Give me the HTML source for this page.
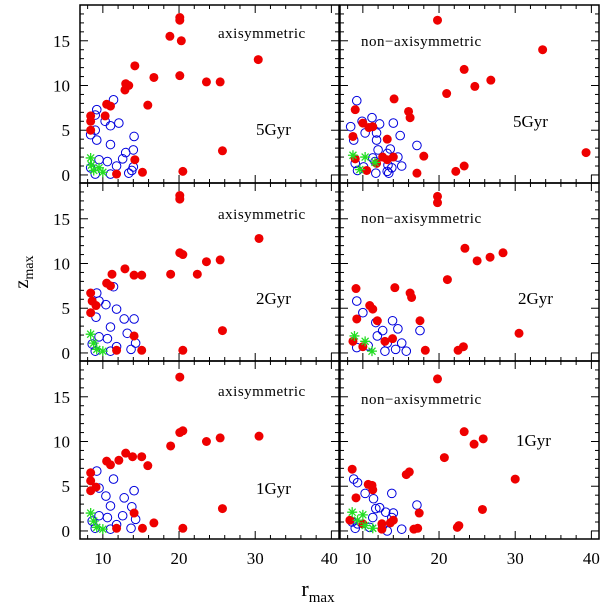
<!DOCTYPE html>
<html><head><meta charset="utf-8">
<style>
body{margin:0;background:#fff;}
svg text{font-family:"Liberation Serif",serif;fill:#000;}
</style></head>
<body>
<svg id="chart" width="600" height="608" viewBox="0 0 600 608" xmlns="http://www.w3.org/2000/svg"></svg>
<script>
// Panel data: [r_max, z_max] pairs
const p5aRed=[[20.1,17.6],[20.1,17.3],[18.8,15.5],[20.3,15.0],[14.2,12.2],[16.7,10.9],[20.1,11.1],[13,10.2],[13.4,10],[12.9,9.5],[23.6,10.4],[25.4,10.4],[30.4,12.9],[15.9,7.8],[10.5,7.9],[11,7.7],[10.3,6.6],[8.4,6.6],[8.4,6],[8.4,5],[25.7,2.7],[20.5,0.4],[15.2,0.3],[11.8,0.1],[14.2,1.7]];
const p5aBlue=[[9.2,7.3],[11.4,8.4],[9,6.7],[10.3,6],[12.1,5.8],[11,5.5],[9,5],[8.4,4.5],[9.2,3.9],[14.1,4.3],[11,3.4],[14,2.8],[13,2.5],[9.5,1.7],[10.6,1.5],[12.6,1.8],[11.8,1],[14,0.9],[13.8,0.5],[11,0.1],[8.4,0.8],[9,0.1],[13.4,0.2]];
const p5aGreen=[[8.4,1.9],[8.5,1.1],[8.8,0.5],[10,0.3],[9.5,0.8]];
const p5nRed=[[19.8,17.3],[33.6,14],[23.3,11.8],[24.7,9.9],[26.8,10.6],[21,9.1],[14.1,8.5],[9,7.3],[16,7.1],[16.2,6.4],[10,5.8],[10.8,5.3],[11.3,5.4],[13.2,4],[18,2.1],[39.3,2.5],[17.1,0.2],[22.2,0.4],[23.3,1],[12.6,2],[9,1.8],[10.5,0.5],[11.8,1.3],[13.2,1.7],[14,2],[8.7,4.3]];
const p5nBlue=[[9.2,8.3],[11.2,6.4],[9.9,6],[12.2,5.7],[14,5.8],[8.4,5.4],[10.3,4.7],[11.8,4.7],[14.9,4.4],[8.8,3.9],[11.8,3.9],[12,2.8],[13.6,2.9],[17.1,3.3],[13.2,2.4],[14.6,2],[11.3,1.9],[9,1.3],[10.1,0.9],[11.6,1.5],[13.3,1.1],[15.1,1],[9.3,0.5],[11.7,0.2],[13.2,0.4],[13.4,0.2],[13.8,0.8]];
const p5nGreen=[[8.7,2.2],[10.3,2],[11.6,1.4],[9.6,0.6]];
const p2aRed=[[20.1,17.6],[20.1,17.2],[20.1,11.2],[20.5,11],[30.5,12.8],[23.6,10.2],[25.4,10.4],[22.4,8.8],[18.9,8.8],[12.9,9.4],[14.1,8.7],[15.1,8.7],[11.2,8.8],[10.5,7.8],[11,7.5],[8.4,6.7],[8.6,5.8],[8.4,4.5],[9.1,5.3],[25.7,2.5],[20.5,0.3],[15.1,0.3],[11.8,0.3],[14.1,1.9]];
const p2aBlue=[[9.2,6.7],[11.4,7.4],[9.5,5.8],[10.4,5.4],[11.8,4.9],[9.1,4],[12.8,3.8],[11,2.9],[14.1,3.8],[9.5,1.8],[10.6,1.6],[13.2,2.2],[11.8,0.7],[13.7,0.4],[8.6,1],[9,0.2],[11,0.2],[14.3,1.1]];
const p2aGreen=[[8.4,2.1],[8.8,1.1],[9.2,0.4],[10,0.2]];
const p2nRed=[[19.8,17.5],[19.8,16.8],[23.4,11.7],[28.4,11.2],[25,10.3],[26.7,10.7],[21.1,8.2],[14.2,7.3],[16.2,6.7],[16.4,6.2],[9.1,7.2],[10.9,5.3],[11.3,4.9],[11.9,3.6],[9.2,3.8],[30.5,2.2],[23.2,0.7],[22.5,0.3],[18.2,0.3],[17.5,3.6],[8.7,1.3],[13.9,1.6],[12.9,1.3],[10,0.7]];
const p2nBlue=[[9.2,5.8],[10,4.5],[11.7,3.4],[13.9,3.6],[12.6,2.5],[14.6,2.7],[11.9,1.9],[13.2,1.1],[10.7,0.8],[9.2,0.6],[14.3,0.4],[15.1,1.1],[17.5,2.5],[12.9,0.2],[15.7,0.2]];
const p2nGreen=[[8.9,1.9],[10.3,1.3],[11.2,0.2]];
const p1aRed=[[20.1,17.2],[20.1,11],[20.5,11.2],[30.5,10.6],[23.6,10],[25.4,10.4],[18.9,9.5],[13,8.7],[13.9,8.3],[15.1,8.3],[15.9,7.3],[12.1,7.9],[10.5,7.8],[11,7.4],[8.4,6.5],[8.4,5.6],[8.4,4.5],[9.1,4.9],[25.7,2.5],[20.5,0.3],[16.7,0.9],[15.2,0.3],[11.8,0.3],[14.1,2]];
const p1aBlue=[[9.2,6.7],[11.4,5.8],[9.5,4.8],[10.4,3.9],[12.8,3.7],[14.1,4.5],[11,2.8],[13.8,2.7],[9.5,1.7],[10.6,1.5],[12.6,1.7],[11.8,0.7],[13.7,0.3],[8.6,1.1],[9,0.3],[11,0.2],[14.3,1.3]];
const p1aGreen=[[8.4,2],[8.8,1.1],[9.2,0.4],[10,0.2]];
const p1nRed=[[19.8,17],[23.3,11.1],[24.6,9.7],[25.8,10.3],[20.7,8.2],[30,5.8],[16.1,6.6],[15.7,6.3],[8.6,6.9],[10.7,5.2],[11.2,5.1],[11.3,4.6],[9.1,3.7],[25.7,2.4],[17.4,2],[16.7,0.2],[17.2,0.3],[22.4,0.4],[22.6,0.6],[8.3,1.2],[10,0.8],[12.5,0.8],[13.6,0.9],[14,1.2],[12.5,0.2]];
const p1nBlue=[[8.8,5.8],[9.3,5.4],[10.3,4.2],[13.8,4.2],[11.4,3.6],[11.7,2.5],[12.2,2.6],[13,2.1],[14,2],[17.1,2.9],[11.3,1.5],[8.6,1],[9.3,0.8],[9,0.3],[10.9,0.4],[12.6,0.6],[13.2,0],[15.1,0.2],[13.8,1.5]];
const p1nGreen=[[8.6,2.1],[10,1.8],[11.3,0.3],[10.3,0.6],[9.3,1.2]];
const xTicks=[10,20,30,40];
const yTicks=[0,5,10,15];

const NS="http://www.w3.org/2000/svg";
const svg=document.getElementById('chart');
const XMIN=7,XMAX=41,YMIN=-0.9,YMAX=19.0,PW=259,PH=178;
function mk(tag,attrs,parent){const e=document.createElementNS(NS,tag);for(const k in attrs)e.setAttribute(k,attrs[k]);(parent||svg).appendChild(e);return e;}
const panels=[
 {x0:80,y0:5,red:p5aRed,blue:p5aBlue,green:p5aGreen,title:"axisymmetric",tx:218,ty:38,age:"5Gyr",ax:256,ay:135,name:"panel-5gyr-axisymmetric",left:true,bottom:false},
 {x0:340,y0:5,red:p5nRed,blue:p5nBlue,green:p5nGreen,title:"non\u2212axisymmetric",tx:361,ty:46,age:"5Gyr",ax:513,ay:127,name:"panel-5gyr-non-axisymmetric",left:false,bottom:false},
 {x0:80,y0:183,red:p2aRed,blue:p2aBlue,green:p2aGreen,title:"axisymmetric",tx:218,ty:219,age:"2Gyr",ax:256,ay:304,name:"panel-2gyr-axisymmetric",left:true,bottom:false},
 {x0:340,y0:183,red:p2nRed,blue:p2nBlue,green:p2nGreen,title:"non\u2212axisymmetric",tx:361,ty:223,age:"2Gyr",ax:518,ay:304,name:"panel-2gyr-non-axisymmetric",left:false,bottom:false},
 {x0:80,y0:361,red:p1aRed,blue:p1aBlue,green:p1aGreen,title:"axisymmetric",tx:218,ty:396,age:"1Gyr",ax:256,ay:494,name:"panel-1gyr-axisymmetric",left:true,bottom:true},
 {x0:340,y0:361,red:p1nRed,blue:p1nBlue,green:p1nGreen,title:"non\u2212axisymmetric",tx:361,ty:404,age:"1Gyr",ax:516,ay:446,name:"panel-1gyr-non-axisymmetric",left:false,bottom:true}
];
panels.forEach(p=>{
 const g=mk('g',{});
 
 
 const sx=v=>p.x0+(v-XMIN)/(XMAX-XMIN)*PW;
 const sy=v=>p.y0+PH-(v-YMIN)/(YMAX-YMIN)*PH;
 const fr=mk('rect',{x:p.x0,y:p.y0,width:PW,height:PH,fill:'none',stroke:'#000','stroke-width':1.5},g);
 
 
 // ticks
 for(let v=8;v<=40;v+=2){const X=sx(v),L=(v%10===0)?8:4;
  mk('line',{x1:X,x2:X,y1:p.y0+PH,y2:p.y0+PH-L,stroke:'#000','stroke-width':1},g);
  mk('line',{x1:X,x2:X,y1:p.y0,y2:p.y0+L,stroke:'#000','stroke-width':1},g);}
 for(let v=0;v<=18;v+=1){const Y=sy(v),L=(v%5===0)?8:4;
  mk('line',{x1:p.x0,x2:p.x0+L,y1:Y,y2:Y,stroke:'#000','stroke-width':1},g);
  mk('line',{x1:p.x0+PW,x2:p.x0+PW-L,y1:Y,y2:Y,stroke:'#000','stroke-width':1},g);}
 if(p.left){yTicks.forEach(v=>{const t=mk('text',{x:p.x0-10,y:sy(v)+6,'text-anchor':'end','font-size':17},g);t.textContent=v;
  
  });}
 if(p.bottom){xTicks.forEach(v=>{const t=mk('text',{x:sx(v)+(v===40&&p.left?-2:0),y:p.y0+PH+25,'text-anchor':'middle','font-size':17},g);t.textContent=v;
  
  });}
 p.blue.forEach(d=>{const c=mk('circle',{cx:sx(d[0]),cy:sy(d[1]),r:4.3,fill:'none',stroke:'#0000dd','stroke-width':1},g);
  
  });
 p.red.forEach(d=>{const c=mk('circle',{cx:sx(d[0]),cy:sy(d[1]),r:4.5,fill:'#ee0000'},g);
  
  });
 p.green.forEach(d=>{const X=sx(d[0]),Y=sy(d[1]);
  const s=mk('path',{d:`M${X-5} ${Y}H${X+5}M${X} ${Y-5}V${Y+5}M${X-3.5} ${Y-3.5}L${X+3.5} ${Y+3.5}M${X+3.5} ${Y-3.5}L${X-3.5} ${Y+3.5}`,stroke:'#22dd22','stroke-width':1.3,fill:'none'},g);
  
  });
 const t=mk('text',{x:p.tx,y:p.ty,'font-size':15,'letter-spacing':0.5},g);t.textContent=p.title;
 
 
 const a=mk('text',{x:p.ax,y:p.ay,'font-size':17},g);a.textContent=p.age;
 
 
});
const yl=mk('text',{x:0,y:0,'font-size':20,transform:'translate(28,272) rotate(-90)','text-anchor':'middle'});
yl.innerHTML='z<tspan font-size="14" dy="5">max</tspan>';


const xl=mk('text',{x:318,y:596,'font-size':22,'text-anchor':'middle'});
xl.innerHTML='r<tspan font-size="15" dy="6">max</tspan>';


</script>
</body></html>
